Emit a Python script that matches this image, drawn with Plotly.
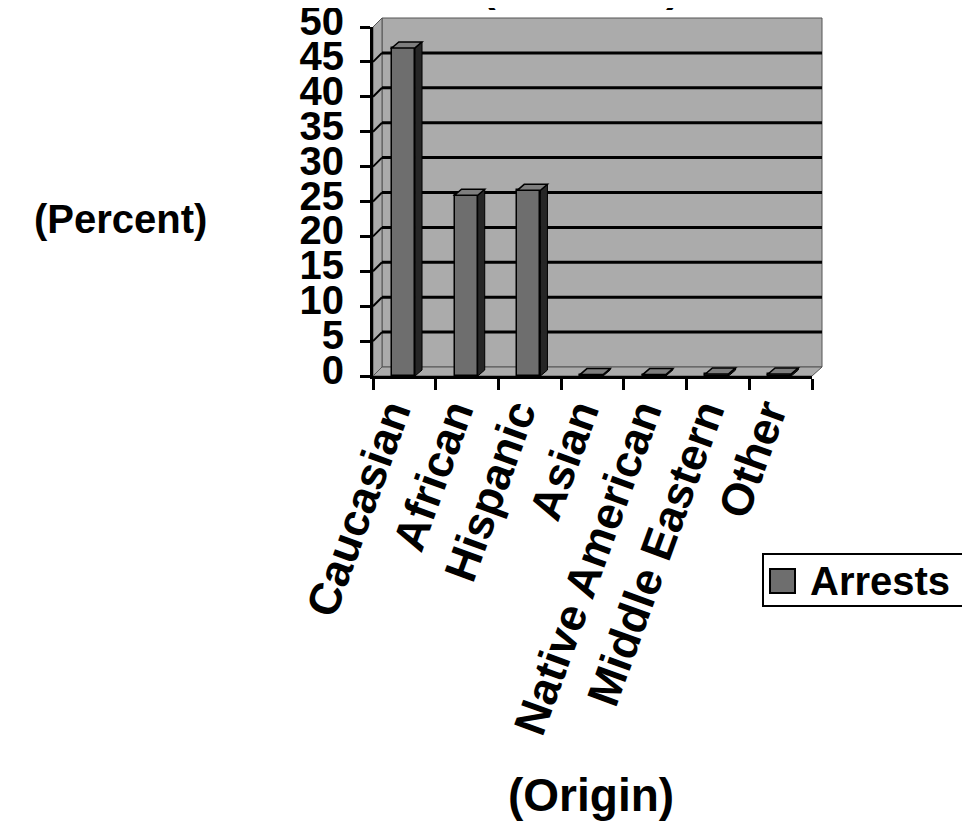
import plotly.graph_objects as go

# ---------------- data ----------------
categories = ["Caucasian", "African", "Hispanic", "Asian",
              "Native American", "Middle Eastern", "Other"]
arrests = [47.0, 25.9, 26.6, 0.2, 0.2, 0.3, 0.3]
y_ticks = [0, 5, 10, 15, 20, 25, 30, 35, 40, 45, 50]
series_name = "Arrests"
x_title = "(Origin)"
y_title = "(Percent)"

# ---------------- geometry (page pixels) ----------------
W, H = 970, 830
BODY = 8                                # browser default body margin
L, R, T, B = 373, 822, 18, 376          # paper area in page pixels
PW, PH = R - L, B - T
FRONT_R, FRONT_T = 812, 27              # front plane right / value-50 pixel
DEPTH_X, DEPTH_Y = 9, 9                 # wall depth
PPU = (B - FRONT_T) / 50.0              # pixels per unit


def px(x):
    return (x - L) / PW


def py(y):
    return (B - y) / PH


FONT = "Liberation Sans, Arial, sans-serif"
WALL = "#ababab"
BAR_FRONT = "#6e6e6e"
BAR_SIDE = "#262626"
BAR_TOP = "#7e7e7e"

fig = go.Figure()
fig.add_trace(go.Bar(
    x=categories, y=arrests, name=series_name,
    width=0.37, offset=-0.2,
    marker=dict(color=BAR_FRONT, line=dict(color="black", width=1.5)),
    showlegend=False,
))

shapes = []
# back wall
shapes.append(dict(type="rect", xref="paper", yref="paper", layer="below",
                   x0=px(L + DEPTH_X), x1=px(R), y0=py(B - DEPTH_Y), y1=py(T),
                   fillcolor=WALL, line=dict(color="#555", width=1)))
# floor
shapes.append(dict(type="path", xref="paper", yref="paper", layer="below",
                   path=f"M{px(L)},{py(B)} L{px(FRONT_R)},{py(B)} L{px(R)},{py(B-DEPTH_Y)} L{px(L+DEPTH_X)},{py(B-DEPTH_Y)} Z",
                   fillcolor=WALL, line=dict(color="#555", width=1)))
# side wall
shapes.append(dict(type="path", xref="paper", yref="paper", layer="below",
                   path=f"M{px(L)},{py(B)} L{px(L)},{py(FRONT_T)} L{px(L+DEPTH_X)},{py(T)} L{px(L+DEPTH_X)},{py(B-DEPTH_Y)} Z",
                   fillcolor=WALL, line=dict(color="#555", width=1)))
# gridlines on back wall + side wall
for v in y_ticks[1:-1]:
    yb = B - DEPTH_Y - v * PPU
    yf = B - v * PPU
    shapes.append(dict(type="line", xref="paper", yref="paper", layer="below",
                       x0=px(L + DEPTH_X), x1=px(R), y0=py(yb), y1=py(yb),
                       line=dict(color="black", width=3)))
    shapes.append(dict(type="line", xref="paper", yref="paper", layer="below",
                       x0=px(L), x1=px(L + DEPTH_X), y0=py(yf), y1=py(yb),
                       line=dict(color="black", width=2)))

# 3D faces of bars (data coordinates)
ddx = 7 / ((FRONT_R - L) / len(categories))
ddy = 6 / PPU
for i, v in enumerate(arrests):
    xl = i - 0.2
    xr = i - 0.2 + 0.37
    shapes.append(dict(type="path", xref="x", yref="y", layer="above",
                       path=f"M{xr},0 L{xr+ddx},{ddy} L{xr+ddx},{v+ddy} L{xr},{v} Z",
                       fillcolor=BAR_SIDE, line=dict(color="black", width=1)))
    shapes.append(dict(type="path", xref="x", yref="y", layer="above",
                       path=f"M{xl},{v} L{xr},{v} L{xr+ddx},{v+ddy} L{xl+ddx},{v+ddy} Z",
                       fillcolor=BAR_TOP, line=dict(color="black", width=1.5)))

# legend (manual, to get the large swatch)
shapes.append(dict(type="rect", xref="paper", yref="paper",
                   x0=px(763), x1=px(966), y0=py(606), y1=py(554),
                   fillcolor="white", line=dict(color="black", width=2)))
shapes.append(dict(type="rect", xref="paper", yref="paper",
                   x0=px(770), x1=px(795), y0=py(593), y1=py(569),
                   fillcolor=BAR_FRONT, line=dict(color="black", width=2)))

annotations = [
    dict(text=series_name, xref="paper", yref="paper", x=px(808), y=py(581),
         xanchor="left", yanchor="middle", showarrow=False,
         font=dict(family=FONT, size=40, color="black", weight="bold")),
    dict(text=y_title, xref="paper", yref="paper", x=px(120), y=py(219),
         xanchor="center", yanchor="middle", showarrow=False,
         font=dict(family=FONT, size=40, color="black", weight="bold")),
    dict(text=x_title, xref="paper", yref="paper", x=px(591), y=py(795),
         xanchor="center", yanchor="middle", showarrow=False,
         font=dict(family=FONT, size=46, color="black", weight="bold")),
    dict(text="(", xref="paper", yref="paper", x=px(488), y=py(12),
         xanchor="center", yanchor="bottom", showarrow=False,
         font=dict(family=FONT, size=44, color="black", weight="bold")),
    dict(text=")", xref="paper", yref="paper", x=px(673), y=py(12),
         xanchor="center", yanchor="bottom", showarrow=False,
         font=dict(family=FONT, size=44, color="black", weight="bold")),
]

fig.update_layout(
    width=W, height=H,
    margin=dict(l=L - BODY, r=W - (R - BODY), t=T - BODY, b=H - (B - BODY), pad=0),
    paper_bgcolor="white", plot_bgcolor="rgba(0,0,0,0)",
    shapes=shapes, annotations=annotations,
    bargap=0, showlegend=False,
    xaxis=dict(type="category", domain=[0, px(FRONT_R)], range=[-0.5, 6.5],
               tickson="boundaries", ticks="outside", ticklen=11, tickwidth=3,
               tickcolor="black", showline=True, linecolor="black", linewidth=3,
               showgrid=False, zeroline=False, tickangle=-70,
               ticklabelstandoff=-10, ticklabelshift=-14, automargin=False,
               ticklabeloverflow="allow",
               tickfont=dict(family=FONT, size=45, color="black", weight="bold")),
    yaxis=dict(domain=[0, py(FRONT_T)], range=[0, 50], tickvals=y_ticks,
               ticks="outside", ticklen=10, tickwidth=3, tickcolor="black",
               showline=True, linecolor="black", linewidth=3,
               showgrid=False, zeroline=False, ticklabelstandoff=8,
               ticklabelshift=-6, automargin=False, ticklabeloverflow="allow",
               tickfont=dict(family=FONT, size=40, color="black", weight="bold")),
)

fig.write_html("out.html")
